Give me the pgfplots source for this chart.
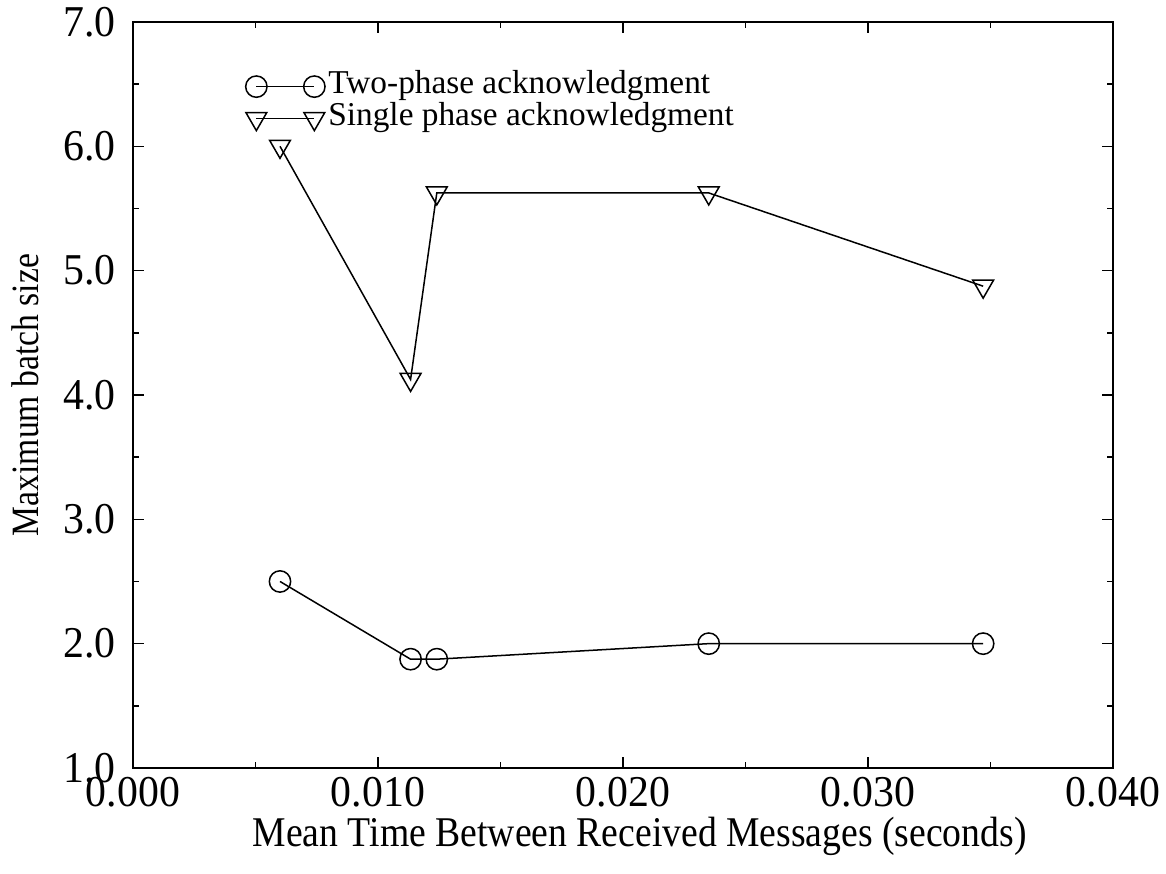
\documentclass[border=0pt]{standalone}
\usepackage{pgfplots}
\pgfplotsset{compat=1.18}
\usepackage{fontspec}
\setmainfont{Liberation Serif}
\newfontfamily\tickfont[FakeStretch=0.95]{Liberation Serif}
\newfontfamily\xlabfont[FakeStretch=0.89]{Liberation Serif}
\newfontfamily\ylabfont[FakeStretch=0.87]{Liberation Serif}
\begin{document}
\begin{tikzpicture}
\begin{axis}[
  scale only axis,
  width=294pt, height=223.8pt,
  xmin=0, xmax=0.04, ymin=1, ymax=7,
  xtick={0,0.01,0.02,0.03,0.04},
  ytick={1,2,3,4,5,6,7},
  minor x tick num=1, minor y tick num=1,
  tick align=inside, tick pos=both,
  major tick length=3.3pt, minor tick length=1.8pt,
  scaled x ticks=false,
  tick label style={font=\tickfont\fontsize{13.2}{15}\selectfont},
  xticklabel style={/pgf/number format/fixed, /pgf/number format/fixed zerofill, /pgf/number format/precision=3, /pgf/number format/assume math mode=true, /tikz/inner ysep=2.5pt},
  yticklabel style={/pgf/number format/fixed, /pgf/number format/fixed zerofill, /pgf/number format/precision=1, /pgf/number format/assume math mode=true, /tikz/inner xsep=5pt},
  axis line style={line width=0.6pt},
  every tick/.style={black, line width=0.45pt},
  xlabel={Mean Time Between Received Messages (seconds)},
  ylabel={Maximum batch size},
  x label style={at={(axis description cs:0.5,-0.105)}, anchor=base, xshift=5pt, font=\xlabfont\fontsize{12.7}{15}\selectfont},
  y label style={at={(axis description cs:-0.096,0.5)}, anchor=base, font=\ylabfont\fontsize{11.6}{14}\selectfont},
  legend style={at={(axis description cs:0.1143,0.9357)}, anchor=north west, draw=none, fill=none, inner sep=0pt,
    nodes={inner ysep=0pt, inner xsep=0pt, text height=6.9pt, text depth=2.7pt}, row sep=0pt,
    /tikz/every odd column/.append style={column sep=1pt},
    font=\fontsize{10}{12}\selectfont},
  legend cell align=left,
  legend image code/.code={\draw plot coordinates {(0pt,0pt) (17.4pt,0pt)};},
  every axis plot/.append style={black, line width=0.45pt},
]
\addplot[mark=o, mark size=3.2pt, mark options={line width=0.45pt}] coordinates {
 (0.0060,2.5) (0.01133,1.875) (0.0124,1.875) (0.0235,2.0) (0.0347,2.0)};
\addlegendentry{Two-phase acknowledgment}
\addplot[mark=triangle, mark size=3.6pt, mark options={rotate=180, line width=0.45pt}] coordinates {
 (0.0060,6.0) (0.01133,4.125) (0.0124,5.625) (0.0235,5.625) (0.0347,4.875)};
\addlegendentry{Single phase acknowledgment}
\end{axis}
\pgfresetboundingbox
\path (current axis.south west) ++(-39.9pt,-31.8pt) coordinate (bl)
      (current axis.north east) ++(15.9pt,6.6pt) coordinate (tr);
\path[use as bounding box] (bl) rectangle (tr);
\end{tikzpicture}
\end{document}
